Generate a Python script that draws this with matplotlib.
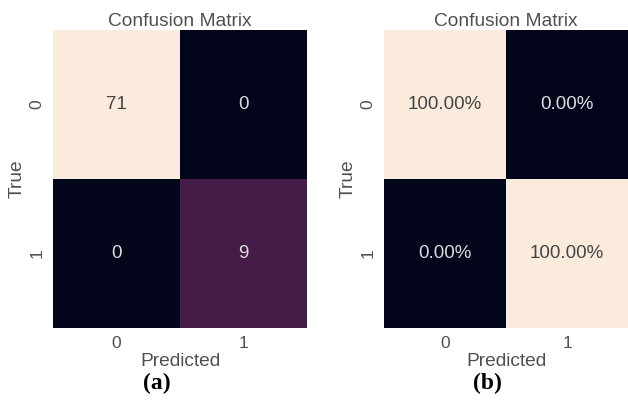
import numpy as np
import matplotlib
matplotlib.use("Agg")
import matplotlib.pyplot as plt
import seaborn as sns

# data
class_labels = ["0", "1"]
counts = np.array([[71, 0],
                   [0, 9]])
rates = np.array([[1.0, 0.0],
                  [0.0, 1.0]])
panel_tags = ["(a)", "(b)"]

sns.set_theme(style="white")
plt.rcParams["font.family"] = ["Liberation Sans", "DejaVu Sans"]
text_grey = "#505050"

W, H = 628, 403
fig = plt.figure(figsize=(W / 100, H / 100), dpi=100)

# axes boxes in pixels: left, top, right, bottom
boxes = [(53, 30, 307, 328), (384, 30, 628, 328)]
tag_x = [157, 487]

# colour range slightly under max so the small cell reads as in the original
panels = [(counts, "d", 50), (rates, ".2%", 1.0)]
for (x0, y0, x1, y1), (mat, fmt, vmax), tag, tx in zip(boxes, panels, panel_tags, tag_x):
    ax = fig.add_axes([x0 / W, 1 - y1 / H, (x1 - x0) / W, (y1 - y0) / H])
    sns.heatmap(mat, annot=True, fmt=fmt, cmap="rocket", cbar=False, ax=ax,
                vmin=0, vmax=vmax,
                xticklabels=class_labels, yticklabels=class_labels,
                annot_kws={"fontsize": 13.5})
    ax.set_title("Confusion Matrix", fontsize=13.8, color=text_grey, pad=3)
    ax.set_xlabel("Predicted", fontsize=13.8, color=text_grey, labelpad=1)
    ax.set_ylabel("True", fontsize=13.8, color=text_grey, labelpad=3)
    ax.tick_params(labelsize=12.5, colors=text_grey, length=0, pad=6)
    ax.tick_params(axis="y", rotation=90)
    for lbl in ax.get_yticklabels():
        lbl.set_va("center")
    for t in ax.texts:
        dark_text = sum(matplotlib.colors.to_rgb(t.get_color())) < 1.5
        t.set_color("#454545" if dark_text else "#dcdcdc")
    fig.text(tx / W, 1 - 383 / H, tag, ha="center", va="center",
             fontsize=17, fontweight="bold",
             family=["Liberation Serif", "DejaVu Serif"], color="black")

fig.savefig("out.png", dpi=100)
